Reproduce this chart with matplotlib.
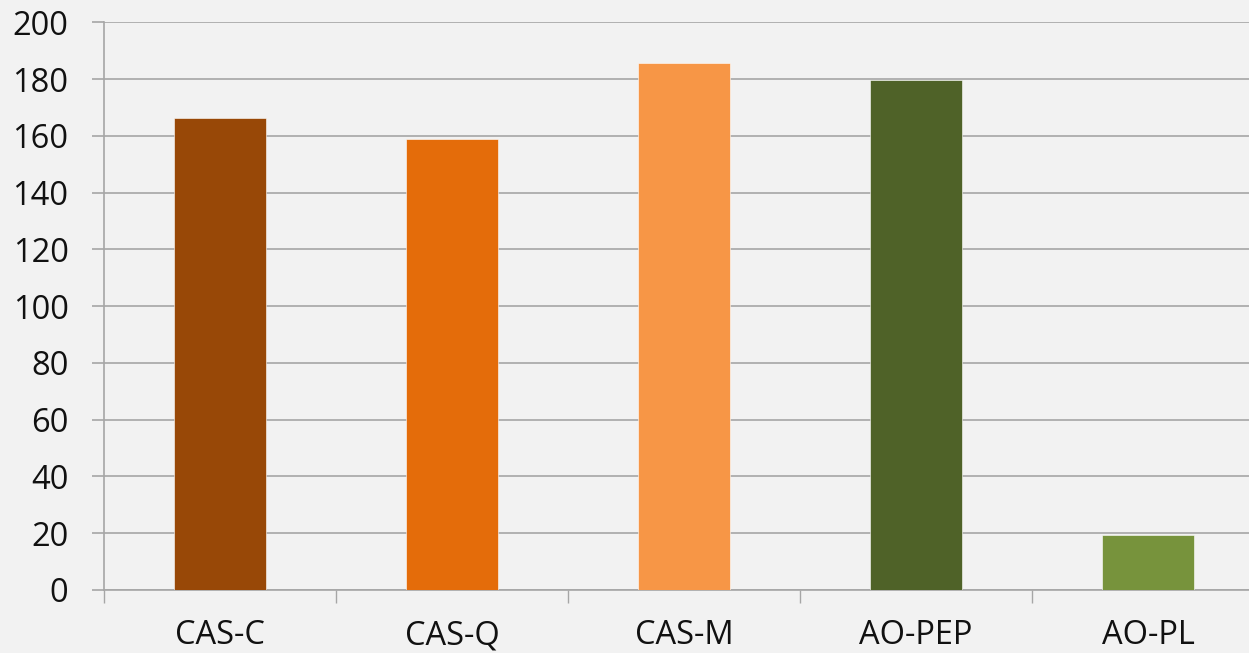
import numpy as np
import matplotlib.pyplot as plt

# bar values per sample
categories = ['CAS-C', 'CAS-Q', 'CAS-M', 'AO-PEP', 'AO-PL']
values = [166.3, 158.9, 185.7, 179.7, 19.2]
colors = ['#984807', '#E46C0A', '#F79646', '#4F6228', '#77933C']

plt.rcParams['font.family'] = ['Open Sans', 'DejaVu Sans']

bg = '#F2F2F2'
grid_col = '#A6A6A6'

fig = plt.figure(figsize=(12.49, 6.53), dpi=100, facecolor=bg)
ax = fig.add_axes([0.0833, 0.0965, 0.9167, 0.8694], facecolor=bg)

x = np.arange(len(categories))
ax.bar(x, values, width=0.397, color=colors, edgecolor='#FFFFFF', linewidth=0.4,
       zorder=3)

# gridlines
ax.yaxis.grid(True, color=grid_col, linewidth=1.2, zorder=0)
ax.set_axisbelow(True)

# labels at bar centres, tick marks at category boundaries
ax.set_xticks(x)
ax.set_xticklabels(categories)
ax.set_xticks(np.arange(-0.5, 5.0, 1.0), minor=True)
ax.set_yticks(np.arange(0, 201, 20))
ax.set_ylim(0, 200)
ax.set_xlim(-0.5, 4.435)

ax.tick_params(axis='x', which='major', length=0, pad=21, labelsize=23.5,
               labelcolor='#111111')
ax.tick_params(axis='x', which='minor', length=9.5, width=1.0, color=grid_col,
               direction='out')
ax.tick_params(axis='y', length=8.6, width=1.2, color=grid_col, pad=17,
               labelsize=23.5, labelcolor='#111111')

for side in ['top', 'right']:
    ax.spines[side].set_visible(False)
ax.spines['left'].set_color(grid_col)
ax.spines['left'].set_linewidth(1.2)
ax.spines['bottom'].set_color(grid_col)
ax.spines['bottom'].set_linewidth(1.2)

fig.savefig('out.png', dpi=100, facecolor=bg)
